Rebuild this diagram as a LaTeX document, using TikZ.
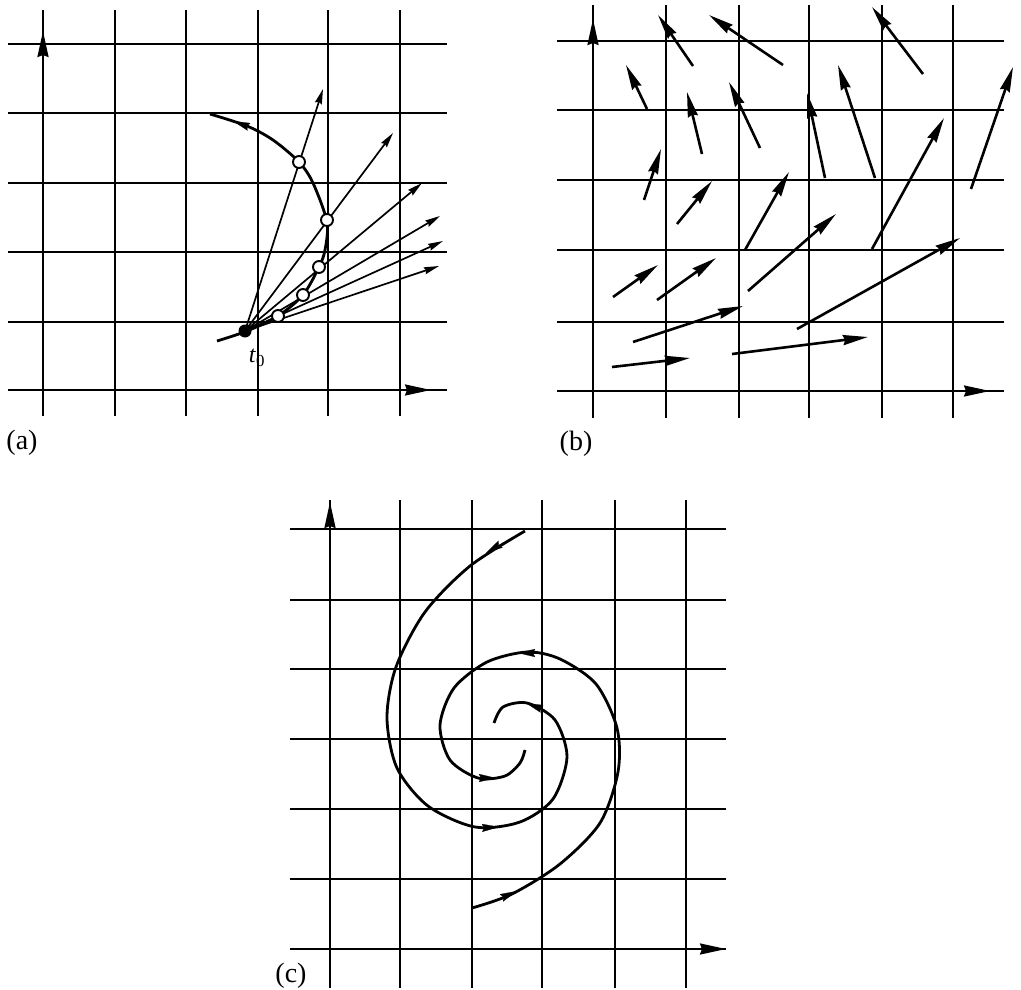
\documentclass[tikz,border=0pt]{standalone}
\usepackage{fontspec}
\setmainfont{Liberation Serif}
\usetikzlibrary{arrows.meta}

\begin{document}
\begin{tikzpicture}[
    x=1pt, y=-1pt,
    gridline/.style={black, line width=2.1pt},
    curve/.style={black, line width=2.8pt},
    axistip/.style={-{Stealth[length=26pt, width=11pt, inset=2pt]}, black, line width=2.1pt},
    vec/.style={-{Stealth[length=25pt, width=10pt, inset=2pt]}, black, line width=2.6pt},
    ray/.style={-{Stealth[length=15pt, width=7pt, inset=1.5pt]}, black, line width=1.7pt},
    midtip/.style={-{Stealth[length=17pt, width=8pt, inset=2pt]}, black, line width=0.2pt},
    hollow/.style={circle, draw, fill=white, line width=1.9pt, inner sep=0pt, minimum size=12pt},
    panel/.style={font=\fontsize{28}{32}\selectfont}
]
\useasboundingbox (0,0) rectangle (1021,990);

% Panel (a)
\foreach \x in {43,115,186,258,328,400}
    \draw[gridline] (\x,10) -- (\x,416);
\foreach \y in {44,113,183,252,322,390}
    \draw[gridline] (8,\y) -- (447,\y);
\draw[axistip] (43,55) -- (43,31);
\draw[axistip] (405,390) -- (431,390);

\draw[ray] (245,331) -- (323,89);
\draw[ray] (245,331) -- (393,133);
\draw[ray] (245,331) -- (422,183);
\draw[ray] (245,331) -- (440,216);
\draw[ray] (245,331) -- (443,241);
\draw[ray] (245,331) -- (439,266);

\draw[curve] plot[smooth] coordinates {(217,341) (247,331) (278,316) (303,295) (319,267)
    (325,250) (327,222) (313,183) (299,162) (273,140) (247,126) (210,114)};
\draw[midtip] (252,128) -- (233,121);

\node[hollow] (pa1) at (278,316) {};
\node[hollow] (pa2) at (303,295) {};
\node[hollow] (pa3) at (319,267) {};
\node[hollow] (pa4) at (327,220) {};
\node[hollow] (pa5) at (299,162) {};
\node[circle, fill=black, inner sep=0pt, minimum size=13pt] (start) at (245,331) {};
\node[font=\fontsize{24}{28}\selectfont] (tzero) at (257,358) {\textit{t}\textsubscript{0}};
\node[panel] (labela) at (22,443) {(a)};

% Panel (b)
\foreach \x in {593,666,739,809,882,953}
    \draw[gridline] (\x,5) -- (\x,418);
\foreach \y in {41,110,180,250,322,391}
    \draw[gridline] (557,\y) -- (1004,\y);
\draw[axistip] (593,46) -- (593,19);
\draw[axistip] (963,391) -- (990,391);

\begin{scope}[every path/.style={vec}]
    \draw (612,367) -- (690,358);
    \draw (633,342) -- (743,306);
    \draw (732,354) -- (868,337);
    \draw (797,329) -- (960,238);
    \draw (613,297) -- (658,265);
    \draw (657,300) -- (716,258);
    \draw (748,291) -- (836,214);
    \draw (644,200) -- (661,149);
    \draw (677,224) -- (712,181);
    \draw (745,250) -- (789,172);
    \draw (872,249) -- (944,118);
    \draw (971,189) -- (1013,67);
    \draw (647,109) -- (626,65);
    \draw (702,154) -- (687,92);
    \draw (760,148) -- (729,82);
    \draw (825,178) -- (807,93);
    \draw (875,178) -- (838,65);
    \draw (693,66) -- (658,15);
    \draw (783,65) -- (709,15);
    \draw (923,74) -- (872,7);
\end{scope}
\node[panel] (labelb) at (576,444) {(b)};

% Panel (c)
\foreach \x in {330,400,472,542,615,686}
    \draw[gridline] (\x,500) -- (\x,988);
\foreach \y in {529,600,669,739,809,879,949}
    \draw[gridline] (290,\y) -- (726,\y);
\draw[axistip] (330,534) -- (330,502);
\draw[axistip] (695,949) -- (726,949);

\draw[curve] plot[smooth] coordinates {(525,531) (470,566) (425,612) (396,667) (387,718)
    (397,768) (428,806) (475,827) (520,822) (553,799) (567,757) (555,720) (527,703)
    (503,707) (494,723)};
\draw[curve] plot[smooth] coordinates {(472,908) (512,894) (560,864) (600,823) (618,772)
    (617,728) (596,684) (560,659) (527,652) (487,662) (454,688) (440,725) (450,760)
    (478,778) (505,776) (520,763) (525,750)};
\draw[midtip] (504,542) -- (486,553);
\draw[midtip] (480,828) -- (499,827);
\draw[midtip] (545,710) -- (526,703);
\draw[midtip] (499,899) -- (517,891);
\draw[midtip] (537,653) -- (518,653);
\draw[midtip] (477,778) -- (496,778);
\node[panel] (labelc) at (291,976) {(c)};

\end{tikzpicture}
\end{document}
